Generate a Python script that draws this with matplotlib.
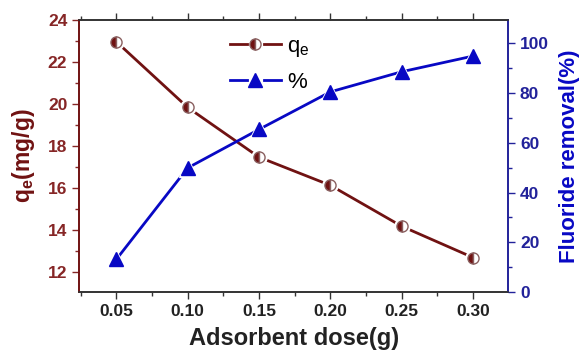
import numpy as np
import matplotlib
matplotlib.use("Agg")
import matplotlib.pyplot as plt
from matplotlib.ticker import MultipleLocator
from matplotlib.lines import Line2D
from matplotlib.legend_handler import HandlerTuple

plt.rcParams["font.family"] = ["Liberation Sans", "DejaVu Sans"]
plt.rcParams["mathtext.fontset"] = "custom"
plt.rcParams["mathtext.rm"] = "Liberation Sans"
plt.rcParams["mathtext.bf"] = "Liberation Sans:bold"

# 数据
dose = [0.05, 0.10, 0.15, 0.20, 0.25, 0.30]
qe = [22.97, 19.84, 17.47, 16.13, 14.18, 12.69]
removal = [13.1, 49.9, 65.4, 80.5, 88.6, 94.9]

MAROON = "#701212"
TICK_RED = "#862626"
BLUE = "#0808c4"
NAVY = "#22229a"

fig = plt.figure(figsize=(5.82, 3.51), dpi=100)
ax = fig.add_axes([0.136, 0.168, 0.737, 0.775])
ax2 = ax.twinx()

# 线
ax.plot(dose, qe, color=MAROON, lw=2, zorder=2)
ax2.plot(dose, removal, color=BLUE, lw=2, zorder=2)
# 标记周围留白（Origin 风格）
ax.plot(dose, qe, ls="none", marker="o", markersize=11,
        markerfacecolor="white", markeredgecolor="white", zorder=3)
ax2.plot(dose, removal, ls="none", marker="^", markersize=13,
         markerfacecolor="white", markeredgecolor="white", zorder=3)
# 标记
ax.plot(dose, qe, ls="none", marker="o", markersize=8,
        fillstyle="left", markerfacecolor=MAROON,
        markerfacecoloralt="white", markeredgecolor="#8a6060",
        markeredgewidth=1, zorder=4)
ax2.plot(dose, removal, ls="none", marker="^", markersize=10,
         markerfacecolor=BLUE, markeredgecolor=BLUE, zorder=4)

ax.set_xlim(0.024, 0.3245)
ax.set_ylim(11.05, 24)
ax2.set_ylim(0, 109.4)

ax.xaxis.set_major_locator(MultipleLocator(0.05))
ax.xaxis.set_minor_locator(MultipleLocator(0.025))
ax.yaxis.set_major_locator(MultipleLocator(2))
ax.yaxis.set_minor_locator(MultipleLocator(1))
ax2.yaxis.set_major_locator(MultipleLocator(20))
ax2.yaxis.set_minor_locator(MultipleLocator(10))

ax.set_xticks(dose)
ax.set_xticklabels([f"{d:.2f}" for d in dose])

TICK_FS = 12.5
ax.tick_params(axis="x", which="both", direction="out", top=True,
               colors="#333333", labelsize=TICK_FS, width=1)
ax.tick_params(axis="x", which="major", length=5)
ax.tick_params(axis="x", which="minor", length=3)
ax.tick_params(axis="y", which="both", direction="out", colors=TICK_RED,
               labelsize=TICK_FS, width=1)
ax.tick_params(axis="y", which="major", length=5)
ax.tick_params(axis="y", which="minor", length=3)
ax2.tick_params(axis="y", which="both", direction="out", colors=NAVY,
                labelsize=TICK_FS, width=1)
ax2.tick_params(axis="y", which="major", length=5)
ax2.tick_params(axis="y", which="minor", length=3)

for lab in ax.get_xticklabels():
    lab.set_fontweight("bold")
    lab.set_color("#222222")
for lab in ax.get_yticklabels():
    lab.set_fontweight("bold")
for lab in ax2.get_yticklabels():
    lab.set_fontweight("bold")

for a in (ax, ax2):
    a.spines["top"].set_color("#333333")
    a.spines["bottom"].set_color("#333333")
    a.spines["left"].set_color(MAROON)
    a.spines["right"].set_color(NAVY)
    for s in a.spines.values():
        s.set_linewidth(1.2)

ax.set_xlabel("Adsorbent dose(g)", fontsize=17, fontweight="bold",
              color="#222222", labelpad=6)
ax.set_ylabel("q$_\\mathbf{e}$(mg/g)", fontsize=16.5, fontweight="bold",
              color=MAROON, labelpad=8)
ax2.set_ylabel("Fluoride removal(%)", fontsize=16, fontweight="bold",
               color=BLUE, labelpad=7)

# 图例句柄：线段 - 标记 - 线段
seg1 = Line2D([], [], color=MAROON, lw=2)
mk1 = Line2D([], [], ls="none", marker="o", markersize=8,
             fillstyle="left", markerfacecolor=MAROON,
             markerfacecoloralt="white", markeredgecolor="#8a6060",
             markeredgewidth=1)
seg2 = Line2D([], [], color=BLUE, lw=2)
mk2 = Line2D([], [], ls="none", marker="^", markersize=10,
             markerfacecolor=BLUE, markeredgecolor=BLUE)

leg = fig.legend(handles=[(seg1, mk1, seg1), (seg2, mk2, seg2)],
                 labels=["q$_\\mathrm{e}$", "%"],
                 handler_map={tuple: HandlerTuple(ndivide=None, pad=0)},
                 loc="upper left", bbox_to_anchor=(0.36, 0.955),
                 frameon=False, fontsize=16, numpoints=1,
                 handlelength=2.3, handletextpad=0.3, labelspacing=0.6)

fig.savefig("out.png", dpi=100)
